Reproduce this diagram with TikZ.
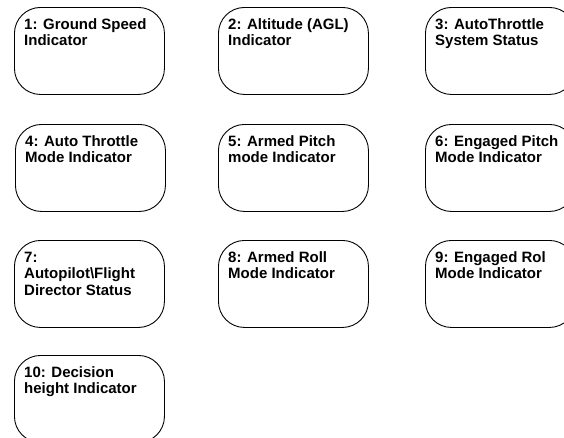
\documentclass[tikz,border=0pt]{standalone}
\usepackage{fontspec}
\setmainfont{Liberation Sans}
\begin{document}
\begin{tikzpicture}[x=1pt,y=1pt,
  box/.style={draw=black, line width=0.9pt, rounded corners=26pt, minimum width=150pt, minimum height=87pt, anchor=north west, inner sep=0pt},
  lbl/.style={anchor=base west, inner sep=0pt, font=\fontsize{15pt}{16.7pt}\selectfont\bfseries}]
\useasboundingbox (0,0) rectangle (564,-437);
\fill[white] (0,0) rectangle (564,-437);
\newcommand\mybox[4]{%
  \node[box] (b#1) at (#2,-#3) {};
  \node[lbl] (t#1) at ([shift={(10,-22)}]b#1.north west) {\parbox[t]{160pt}{\raggedright #4}};
}
\mybox{1}{14}{7}{1: Ground Speed\\Indicator}
\mybox{2}{218}{7}{2: Altitude (AGL)\\Indicator}
\mybox{3}{425}{7}{3: AutoThrottle\\System Status}
\mybox{4}{15}{124}{4: Auto Throttle\\Mode Indicator}
\mybox{5}{218}{124}{5: Armed Pitch\\mode Indicator}
\mybox{6}{425}{124}{6: Engaged Pitch\\Mode Indicator}
\mybox{7}{14}{240}{7:\\Autopilot\textbackslash Flight\\Director Status}
\mybox{8}{218}{240}{8: Armed Roll\\Mode Indicator}
\mybox{9}{425}{240}{9: Engaged Rol\\Mode Indicator}
\mybox{10}{14}{355}{10: Decision\\height Indicator}
\end{tikzpicture}
\end{document}
